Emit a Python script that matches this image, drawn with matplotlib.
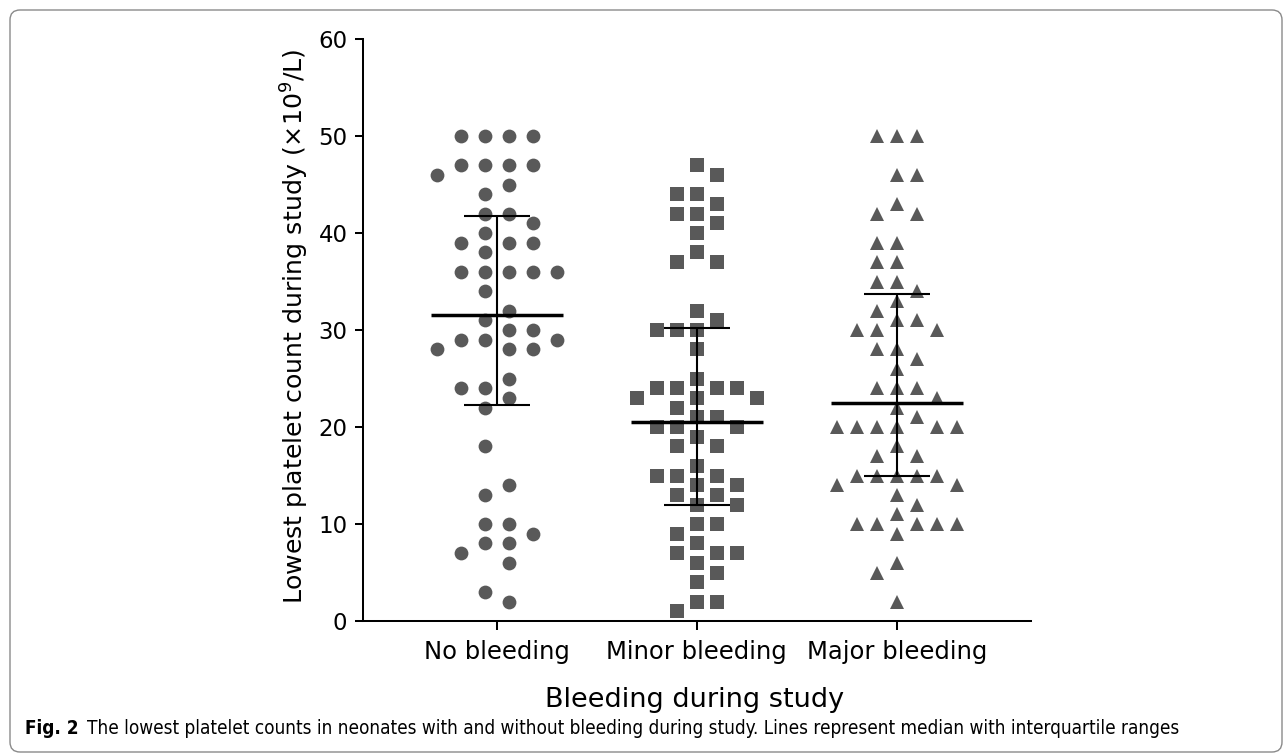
import numpy as np
import matplotlib
matplotlib.use("Agg")
import matplotlib.pyplot as plt
from matplotlib.patches import FancyBboxPatch
from matplotlib.transforms import IdentityTransform

# ---------------- data ----------------
categories = ["No bleeding", "Minor bleeding", "Major bleeding"]

no_bleeding = [50, 50, 50, 50, 47, 47, 47, 47, 46, 45, 44, 42, 42, 41, 40,
               39, 39, 39, 38, 36, 36, 36, 36, 36, 34, 32, 31, 30, 30, 29,
               29, 29, 28, 28, 28, 25, 24, 24, 23, 22, 18, 14, 13, 10, 10,
               9, 8, 8, 7, 6, 3, 2]

minor_bleeding = [47, 46, 44, 44, 43, 42, 42, 41, 40, 38, 37, 37, 32, 31, 30,
                  30, 30, 28, 25, 24, 24, 24, 24, 23, 23, 23, 22, 21, 21, 20,
                  20, 20, 19, 18, 18, 16, 15, 15, 15, 14, 14, 13, 13, 12, 12,
                  10, 10, 9, 8, 7, 7, 7, 6, 5, 4, 2, 2, 1]

major_bleeding = [50, 50, 50, 46, 46, 43, 42, 42, 39, 39, 37, 37, 35, 35, 34,
                  33, 32, 31, 31, 30, 30, 30, 28, 28, 27, 26, 24, 24, 24, 23,
                  22, 21, 20, 20, 20, 20, 20, 20, 18, 17, 17, 15, 15, 15, 15,
                  15, 14, 14, 13, 12, 11, 10, 10, 10, 10, 10, 9, 6, 5, 2]

yticks = [0, 10, 20, 30, 40, 50, 60]

groups = [no_bleeding, minor_bleeding, major_bleeding]

# ---------------- style ----------------
W, H, DPI = 1284, 755, 100
point_color = "#595959"
markers = ["o", "s", "^"]
marker_px = [13.8, 14.2, 14.6]
slot_px = [24, 20, 20]
grid_shift = [0.5, 0.0, 0.0]
metric = ["euclid", "box", "box"]

fig = plt.figure(figsize=(W / DPI, H / DPI), dpi=DPI)
fig.patch.set_facecolor("white")

ax_left, ax_right = 362.7, 1030.7
ax_top, ax_bottom = 39.0, 621.0
ax = fig.add_axes([ax_left / W, (H - ax_bottom) / H,
                   (ax_right - ax_left) / W, (ax_bottom - ax_top) / H])
ax.set_xlim(-0.67, 2.67)
ax.set_ylim(0, 60)

for s in ["top", "right"]:
    ax.spines[s].set_visible(False)
for s in ["left", "bottom"]:
    ax.spines[s].set_linewidth(1.45)
    ax.spines[s].set_color("black")

ax.set_yticks(yticks)
ax.set_yticklabels([str(t) for t in yticks])
ax.set_xticks(range(len(categories)))
ax.set_xticklabels(categories)
ax.tick_params(axis="y", length=6, width=1.45, labelsize=16.5, pad=5,
               colors="black")
ax.tick_params(axis="x", length=6.5, width=1.45, labelsize=17.5, pad=7,
               colors="black")

# pixel scale of the data axes
p0 = ax.transData.transform((0, 0))
p1 = ax.transData.transform((1, 1))
px_per_x = p1[0] - p0[0]
px_per_y = p1[1] - p0[1]


def grid_swarm_once(vals, slot, diam, kind, shift, descending, flip0):
    offs = np.zeros(len(vals))
    placed = []
    flip = flip0
    if shift:
        grid = [(j + shift, -(j + shift)) for j in range(12)]
    else:
        grid = [(0.0,)] + [(float(j), float(-j)) for j in range(1, 12)]
    for v in sorted(set(vals.tolist()), reverse=descending):
        idx = [i for i in range(len(vals)) if vals[i] == v]
        k = len(idx)
        cands = []
        for g in grid:
            if len(g) == 1:
                cands.append(g[0])
            else:
                cands.extend([g[1], g[0]] if not flip else [g[0], g[1]])
        chosen = []
        y = v * px_per_y
        for c in cands:
            x = c * slot
            ok = True
            for (qx, qy) in placed:
                dx, dy = abs(x - qx), abs(y - qy)
                d = np.hypot(dx, dy) if kind == "euclid" else max(dx, dy)
                if d < diam:
                    ok = False
                    break
            if ok:
                chosen.append(c)
                placed.append((x, y))
            if len(chosen) == k:
                break
        chosen.sort()
        for i, c in zip(idx, chosen):
            offs[i] = c
        if k % 2 == 1:
            flip = not flip
    return offs


def grid_swarm(values, slot, diam, kind, shift):
    """Column scatter on a fixed slot grid; keep the most compact arrangement."""
    vals = np.asarray(values, dtype=float)
    best, best_cost = None, None
    for descending in (True, False):
        for flip0 in (False, True):
            o = grid_swarm_once(vals, slot, diam, kind, shift, descending, flip0)
            cost = float(np.sum(o ** 2)) + 4.0 * float(np.max(np.abs(o)))
            if best_cost is None or cost < best_cost:
                best, best_cost = o, cost
    return best * slot / px_per_x


for gi, vals in enumerate(groups):
    offs = grid_swarm(vals, slot_px[gi], marker_px[gi] + 0.6, metric[gi],
                      grid_shift[gi])
    ax.plot(gi + offs, vals, linestyle="none", marker=markers[gi],
            markersize=marker_px[gi] * 72 / DPI, markerfacecolor=point_color,
            markeredgewidth=0, color=point_color, zorder=2, clip_on=False)
    q1, med, q3 = np.percentile(vals, [25, 50, 75], method="weibull")
    ax.hlines(med, gi - 0.33, gi + 0.33, color="black", lw=2.5, zorder=4)
    ax.vlines(gi, q1, q3, color="black", lw=1.5, zorder=4)
    ax.hlines([q1, q3], gi - 0.165, gi + 0.165, color="black", lw=1.5, zorder=4)

# axis titles
fig.text(295 / W, 1 - 326 / H, "Lowest platelet count during study (×10$^{9}$/L)",
         rotation=90, ha="center", va="center", fontsize=18.2, color="black")
fig.text(695 / W, 1 - 700 / H, "Bleeding during study",
         ha="center", va="center", fontsize=19.5, color="black")

# caption (fitted to the width it spans in the figure)
cap_y = 1 - 729 / H
cap_x0, cap_x1 = 25, 1177
cap_kw = dict(family="DejaVu Sans", stretch="condensed")
t1 = fig.text(cap_x0 / W, cap_y, "Fig. 2", ha="left", va="center",
              fontsize=12, weight="bold", **cap_kw)
t2 = fig.text(0, cap_y,
              "The lowest platelet counts in neonates with and without bleeding during study. "
              "Lines represent median with interquartile ranges",
              ha="left", va="center", fontsize=12, **cap_kw)
renderer = fig.canvas.get_renderer()
for _ in range(3):
    bb1 = t1.get_window_extent(renderer)
    t2.set_x((bb1.x1 + 8) / W)
    bb2 = t2.get_window_extent(renderer)
    scale = (cap_x1 - cap_x0) / (bb2.x1 - bb1.x0)
    fs = t1.get_fontsize() * scale
    t1.set_fontsize(fs)
    t2.set_fontsize(fs)
bb1 = t1.get_window_extent(renderer)
t2.set_x((bb1.x1 + 8) / W)

# rounded frame around the figure
frame = FancyBboxPatch((10, 3), 1272, 742, boxstyle="round,pad=0,rounding_size=10",
                       transform=IdentityTransform(), fill=False,
                       edgecolor="#8a8a8a", linewidth=1.0)
fig.patches.append(frame)

fig.savefig("out.png", dpi=DPI, facecolor="white")
